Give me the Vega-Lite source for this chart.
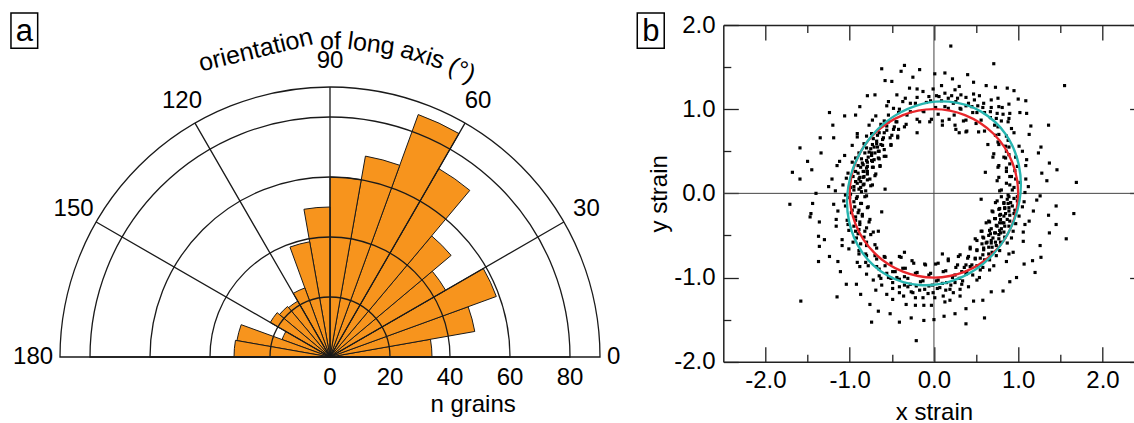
{
  "$schema": "https://vega.github.io/schema/vega-lite/v6.json",
  "padding": {"left": 0, "top": 12, "right": 0, "bottom": 0},
  "autosize": {"type": "pad"},
  "bounds": "flush",
  "spacing": 63.3,
  "config": {
    "font": "Liberation Sans",
    "view": {"stroke": null},
    "axis": {"domainColor": "#222", "domainWidth": 1.5, "tickColor": "#222", "tickWidth": 1.3, "grid": false, "labelFontSize": 24, "labelColor": "black", "titleFontSize": 24, "titleFontWeight": "normal", "titleColor": "black", "labelFont": "Liberation Sans", "titleFont": "Liberation Sans", "labelFlush": false}
  },
  "hconcat": [
    {
      "width": 660,
      "height": 664,
      "layer": [
        {
          "data": {"values": [{"a0":0,"a1":10,"n":34},{"a0":10,"a1":20,"n":49},{"a0":20,"a1":30,"n":59},{"a0":30,"a1":40,"n":44.5},{"a0":40,"a1":50,"n":52.7},{"a0":50,"a1":60,"n":72.5},{"a0":60,"a1":70,"n":86},{"a0":70,"a1":80,"n":68},{"a0":80,"a1":90,"n":60},{"a0":90,"a1":100,"n":50},{"a0":100,"a1":110,"n":39},{"a0":110,"a1":120,"n":24.5},{"a0":120,"a1":130,"n":21.5},{"a0":130,"a1":140,"n":22},{"a0":140,"a1":150,"n":23},{"a0":150,"a1":160,"n":17},{"a0":160,"a1":170,"n":31.5},{"a0":170,"a1":180,"n":32}]},
          "mark": {"type": "arc", "fill": "#F7941D", "stroke": "#1a1a1a", "strokeWidth": 1},
          "encoding": {
            "theta": {"field": "a0", "type": "quantitative", "scale": {"type": "linear", "domain": [0, 180], "range": [1.5707963, -1.5707963]}, "stack": null},
            "theta2": {"field": "a1"},
            "radius": {"field": "n", "type": "quantitative", "stack": null, "scale": {"type": "linear", "domain": [0, 90], "range": [0, 270], "zero": true}}
          }
        },
        {
          "data": {"values": [{"r":20},{"r":40},{"r":60},{"r":80},{"r":90}]},
          "mark": {"type": "arc", "filled": false, "stroke": "#1a1a1a", "strokeWidth": 1.3},
          "encoding": {
            "theta": {"datum": 0, "type": "quantitative"},
            "theta2": {"datum": 180},
            "radius": {"field": "r", "type": "quantitative", "stack": null}
          }
        },
        {
          "data": {"values": [{"a":30},{"a":60},{"a":90},{"a":120},{"a":150}]},
          "mark": {"type": "arc", "filled": false, "stroke": "#1a1a1a", "strokeWidth": 1.3},
          "encoding": {
            "theta": {"field": "a", "type": "quantitative", "stack": null},
            "theta2": {"field": "a"},
            "radius": {"datum": 90, "type": "quantitative"}
          }
        },
        {
          "data": {"values": [{"deg":30},{"deg":60},{"deg":90},{"deg":120},{"deg":150}]},
          "mark": {"type": "text", "fontSize": 24, "align": "center", "baseline": "middle", "color": "black"},
          "encoding": {
            "theta": {"field": "deg", "type": "quantitative", "stack": null},
            "radius": {"datum": 98.7, "type": "quantitative"},
            "text": {"field": "deg", "type": "quantitative", "format": "d"}
          }
        },
        {
          "data": {"values": [{"deg":0}]},
          "mark": {"type": "text", "fontSize": 24, "align": "left", "baseline": "middle", "color": "black"},
          "encoding": {
            "theta": {"field": "deg", "type": "quantitative", "stack": null},
            "radius": {"datum": 92.3, "type": "quantitative"},
            "text": {"field": "deg", "type": "quantitative", "format": "d"}
          }
        },
        {
          "data": {"values": [{"deg":180}]},
          "mark": {"type": "text", "fontSize": 24, "align": "right", "baseline": "middle", "color": "black"},
          "encoding": {
            "theta": {"field": "deg", "type": "quantitative", "stack": null},
            "radius": {"datum": 92.3, "type": "quantitative"},
            "text": {"field": "deg", "type": "quantitative", "format": "d"}
          }
        },
        {
          "data": {"values": [{"w":"orientation","deg":103.6},{"w":"of","deg":89.9},{"w":"long","deg":82.5},{"w":"axis","deg":72.96},{"w":"(°)","deg":65.3}]},
          "mark": {"type": "text", "fontSize": 25, "align": "center", "baseline": "alphabetic", "color": "black"},
          "encoding": {
            "theta": {"field": "deg", "type": "quantitative", "stack": null},
            "radius": {"datum": 102.6, "type": "quantitative"},
            "angle": {"field": "deg", "type": "quantitative", "scale": {"domain": [0, 180], "range": [90, -90]}},
            "text": {"field": "w"}
          }
        },
        {
          "data": {"values": [{"v":0},{"v":20},{"v":40},{"v":60},{"v":80}]},
          "mark": {"type": "text", "fontSize": 24, "align": "center", "baseline": "top", "dy": 9, "color": "black"},
          "encoding": {
            "theta": {"datum": 0, "type": "quantitative"},
            "radius": {"field": "v", "type": "quantitative", "stack": null},
            "text": {"field": "v", "type": "quantitative", "format": "d"}
          }
        },
        {
          "data": {"values": [{}]},
          "mark": {"type": "text", "text": "n grains", "fontSize": 24, "align": "center", "baseline": "alphabetic", "dy": 55, "color": "black"},
          "encoding": {
            "theta": {"datum": 0, "type": "quantitative"},
            "radius": {"datum": 47.7, "type": "quantitative"}
          }
        }
      ]
    },
    {
      "width": 421.3,
      "height": 336.7,
      "resolve": {"axis": {"x": "independent", "y": "independent"}},
      "layer": [
        {
          "data": {"values": [{}]},
          "mark": {"type": "rule", "stroke": "#444", "strokeWidth": 1},
          "encoding": {
            "y": {"datum": 0, "type": "quantitative", "scale": {"domain": [-2, 2], "nice": false, "zero": false},
                  "axis": {"orient": "right", "values": [-2, -1.5, -1, -0.5, 0, 0.5, 1, 1.5, 2], "labels": false, "title": null, "domain": true,
                           "tickSize": {"condition": {"test": "datum.value % 1 === 0", "value": -15}, "value": -7.5}}}
          }
        },
        {
          "data": {"values": [{}]},
          "mark": {"type": "rule", "stroke": "#444", "strokeWidth": 1},
          "encoding": {
            "x": {"datum": 0, "type": "quantitative", "scale": {"domain": [-2.5, 2.5], "nice": false, "zero": false},
                  "axis": {"orient": "top", "values": [-2, -1.5, -1, -0.5, 0, 0.5, 1, 1.5, 2], "labels": false, "title": null, "domain": true,
                           "tickSize": {"condition": {"test": "datum.value % 1 === 0", "value": -15}, "value": -7.5}}}
          }
        },
        {
          "data": {"values": [
{"x":0.78,"y":0.03},{"x":0.88,"y":-0.02},{"x":0.93,"y":0.04},{"x":0.99,"y":-0.04},{"x":1.08,"y":0.01},{"x":1.26,"y":-0.03},
{"x":0.80,"y":0.04},{"x":0.90,"y":0.10},{"x":0.95,"y":0.07},{"x":1.02,"y":0.13},{"x":1.12,"y":0.08},{"x":1.34,"y":0.15},
{"x":0.75,"y":0.15},{"x":0.86,"y":0.12},{"x":0.90,"y":0.20},{"x":0.97,"y":0.17},{"x":1.09,"y":0.17},{"x":1.28,"y":0.24},
{"x":0.77,"y":0.19},{"x":0.86,"y":0.26},{"x":0.92,"y":0.20},{"x":0.96,"y":0.27},{"x":1.09,"y":0.33},{"x":1.37,"y":0.36},
{"x":0.76,"y":0.31},{"x":0.86,"y":0.30},{"x":0.90,"y":0.35},{"x":0.99,"y":0.32},{"x":1.10,"y":0.40},{"x":1.24,"y":0.48},
{"x":0.77,"y":0.33},{"x":0.85,"y":0.42},{"x":0.89,"y":0.46},{"x":0.97,"y":0.43},{"x":1.05,"y":0.50},{"x":1.27,"y":0.55},
{"x":0.70,"y":0.43},{"x":0.83,"y":0.43},{"x":0.86,"y":0.50},{"x":0.89,"y":0.55},{"x":1.01,"y":0.56},{"x":1.13,"y":0.70},
{"x":0.71,"y":0.47},{"x":0.77,"y":0.58},{"x":0.85,"y":0.56},{"x":0.88,"y":0.63},{"x":0.95,"y":0.72},{"x":1.15,"y":0.80},
{"x":0.64,"y":0.58},{"x":0.76,"y":0.61},{"x":0.77,"y":0.70},{"x":0.86,"y":0.68},{"x":0.92,"y":0.77},{"x":1.10,"y":0.95},
{"x":0.73,"y":0.69},{"x":0.76,"y":0.79},{"x":0.80,"y":0.86},{"x":0.88,"y":0.85},{"x":0.89,"y":0.89},{"x":0.90,"y":0.95},{"x":1.02,"y":0.96},{"x":1.09,"y":1.10},
{"x":0.60,"y":0.74},{"x":0.72,"y":0.81},{"x":0.74,"y":0.89},{"x":0.75,"y":0.95},{"x":0.82,"y":0.94},{"x":0.81,"y":1.02},{"x":0.89,"y":1.06},{"x":1.00,"y":1.12},
{"x":0.53,"y":0.73},{"x":0.56,"y":0.87},{"x":0.67,"y":0.90},{"x":0.67,"y":0.97},{"x":0.68,"y":1.02},{"x":0.77,"y":1.03},{"x":0.76,"y":1.13},{"x":0.87,"y":1.25},
{"x":0.39,"y":0.74},{"x":0.50,"y":0.83},{"x":0.51,"y":0.96},{"x":0.60,"y":0.96},{"x":0.58,"y":1.02},{"x":0.59,"y":1.07},{"x":0.68,"y":1.11},{"x":0.73,"y":1.26},
{"x":0.38,"y":0.73},{"x":0.38,"y":0.87},{"x":0.46,"y":0.96},{"x":0.45,"y":1.03},{"x":0.52,"y":1.04},{"x":0.48,"y":1.11},{"x":0.54,"y":1.16},{"x":0.62,"y":1.28},
{"x":0.26,"y":0.76},{"x":0.35,"y":0.86},{"x":0.32,"y":1.00},{"x":0.38,"y":1.04},{"x":0.41,"y":1.07},{"x":0.38,"y":1.14},{"x":0.47,"y":1.18},{"x":0.47,"y":1.32},
{"x":0.25,"y":0.81},{"x":0.24,"y":0.93},{"x":0.31,"y":1.01},{"x":0.26,"y":1.09},{"x":0.28,"y":1.13},{"x":0.32,"y":1.17},{"x":0.30,"y":1.27},{"x":0.40,"y":1.41},
{"x":0.10,"y":0.81},{"x":0.18,"y":0.88},{"x":0.17,"y":1.01},{"x":0.23,"y":1.07},{"x":0.17,"y":1.13},{"x":0.21,"y":1.16},{"x":0.25,"y":1.23},{"x":0.22,"y":1.36},
{"x":0.10,"y":0.86},{"x":0.05,"y":0.94},{"x":0.13,"y":1.03},{"x":0.09,"y":1.10},{"x":0.06,"y":1.15},{"x":0.13,"y":1.19},{"x":0.09,"y":1.28},{"x":0.13,"y":1.43},
{"x":-0.03,"y":0.88},{"x":0.02,"y":1.02},{"x":-0.04,"y":1.10},{"x":0.03,"y":1.16},{"x":-0.01,"y":1.24},{"x":0.01,"y":1.42},
{"x":-0.05,"y":0.85},{"x":-0.12,"y":0.97},{"x":-0.09,"y":1.08},{"x":-0.06,"y":1.15},{"x":-0.13,"y":1.21},{"x":-0.17,"y":1.47},
{"x":-0.17,"y":0.85},{"x":-0.13,"y":0.98},{"x":-0.22,"y":1.07},{"x":-0.20,"y":1.14},{"x":-0.20,"y":1.24},{"x":-0.25,"y":1.38},
{"x":-0.20,"y":0.88},{"x":-0.28,"y":0.97},{"x":-0.28,"y":1.07},{"x":-0.34,"y":1.13},{"x":-0.29,"y":1.25},{"x":-0.39,"y":1.45},
{"x":-0.33,"y":0.82},{"x":-0.32,"y":0.93},{"x":-0.41,"y":1.00},{"x":-0.37,"y":1.09},{"x":-0.44,"y":1.17},{"x":-0.50,"y":1.33},
{"x":-0.35,"y":0.79},{"x":-0.44,"y":0.85},{"x":-0.42,"y":0.96},{"x":-0.48,"y":1.01},{"x":-0.54,"y":1.09},{"x":-0.58,"y":1.34},
{"x":-0.43,"y":0.68},{"x":-0.42,"y":0.76},{"x":-0.47,"y":0.79},{"x":-0.45,"y":0.85},{"x":-0.54,"y":0.85},{"x":-0.54,"y":0.93},{"x":-0.56,"y":1.04},{"x":-0.70,"y":1.17},
{"x":-0.43,"y":0.66},{"x":-0.50,"y":0.69},{"x":-0.48,"y":0.76},{"x":-0.56,"y":0.75},{"x":-0.56,"y":0.80},{"x":-0.59,"y":0.86},{"x":-0.69,"y":0.92},{"x":-0.79,"y":1.16},
{"x":-0.51,"y":0.58},{"x":-0.52,"y":0.66},{"x":-0.60,"y":0.66},{"x":-0.59,"y":0.72},{"x":-0.65,"y":0.72},{"x":-0.63,"y":0.82},{"x":-0.73,"y":0.87},{"x":-0.88,"y":1.03},
{"x":-0.51,"y":0.57},{"x":-0.61,"y":0.57},{"x":-0.61,"y":0.64},{"x":-0.68,"y":0.62},{"x":-0.67,"y":0.69},{"x":-0.74,"y":0.71},{"x":-0.77,"y":0.81},{"x":-0.93,"y":0.93},
{"x":-0.57,"y":0.44},{"x":-0.59,"y":0.52},{"x":-0.66,"y":0.50},{"x":-0.63,"y":0.58},{"x":-0.67,"y":0.55},{"x":-0.68,"y":0.59},{"x":-0.73,"y":0.58},{"x":-0.72,"y":0.65},{"x":-0.80,"y":0.68},{"x":-0.91,"y":0.71},{"x":-1.06,"y":0.92},
{"x":-0.59,"y":0.44},{"x":-0.66,"y":0.42},{"x":-0.65,"y":0.50},{"x":-0.70,"y":0.48},{"x":-0.74,"y":0.48},{"x":-0.71,"y":0.55},{"x":-0.75,"y":0.53},{"x":-0.80,"y":0.54},{"x":-0.83,"y":0.59},{"x":-0.91,"y":0.67},{"x":-1.20,"y":0.81},
{"x":-0.64,"y":0.32},{"x":-0.65,"y":0.41},{"x":-0.71,"y":0.40},{"x":-0.74,"y":0.39},{"x":-0.74,"y":0.45},{"x":-0.78,"y":0.43},{"x":-0.77,"y":0.49},{"x":-0.82,"y":0.48},{"x":-0.89,"y":0.48},{"x":-0.97,"y":0.57},{"x":-1.19,"y":0.66},
{"x":-0.64,"y":0.33},{"x":-0.72,"y":0.31},{"x":-0.73,"y":0.38},{"x":-0.79,"y":0.32},{"x":-0.79,"y":0.37},{"x":-0.80,"y":0.39},{"x":-0.85,"y":0.36},{"x":-0.86,"y":0.41},{"x":-0.93,"y":0.42},{"x":-1.06,"y":0.45},{"x":-1.35,"y":0.66},
{"x":-0.69,"y":0.23},{"x":-0.73,"y":0.31},{"x":-0.79,"y":0.26},{"x":-0.80,"y":0.30},{"x":-0.83,"y":0.26},{"x":-0.84,"y":0.34},{"x":-0.87,"y":0.31},{"x":-0.90,"y":0.33},{"x":-0.97,"y":0.37},{"x":-1.12,"y":0.38},{"x":-1.34,"y":0.48},
{"x":-0.70,"y":0.21},{"x":-0.76,"y":0.17},{"x":-0.79,"y":0.23},{"x":-0.83,"y":0.20},{"x":-0.84,"y":0.26},{"x":-0.88,"y":0.19},{"x":-0.90,"y":0.24},{"x":-0.93,"y":0.26},{"x":-1.02,"y":0.24},{"x":-1.15,"y":0.33},{"x":-1.50,"y":0.38},
{"x":-0.73,"y":0.10},{"x":-0.79,"y":0.16},{"x":-0.83,"y":0.11},{"x":-0.84,"y":0.19},{"x":-0.87,"y":0.14},{"x":-0.89,"y":0.17},{"x":-0.93,"y":0.14},{"x":-0.96,"y":0.20},{"x":-1.04,"y":0.18},{"x":-1.21,"y":0.17},{"x":-1.45,"y":0.28},
{"x":-0.75,"y":0.09},{"x":-0.81,"y":0.03},{"x":-0.84,"y":0.10},{"x":-0.87,"y":0.07},{"x":-0.89,"y":0.05},{"x":-0.91,"y":0.12},{"x":-0.95,"y":0.08},{"x":-0.99,"y":0.07},{"x":-1.08,"y":0.10},{"x":-1.25,"y":0.08},{"x":-1.59,"y":0.17},
{"x":-0.80,"y":-0.03},{"x":-0.86,"y":0.02},{"x":-0.91,"y":-0.04},{"x":-0.95,"y":0.04},{"x":-0.99,"y":-0.01},{"x":-1.05,"y":-0.02},{"x":-1.17,"y":0.03},{"x":-1.40,"y":0.00},
{"x":-0.82,"y":-0.04},{"x":-0.87,"y":-0.12},{"x":-0.92,"y":-0.06},{"x":-0.95,"y":-0.10},{"x":-1.00,"y":-0.05},{"x":-1.07,"y":-0.09},{"x":-1.19,"y":-0.13},{"x":-1.44,"y":-0.12},
{"x":-0.78,"y":-0.16},{"x":-0.86,"y":-0.12},{"x":-0.89,"y":-0.20},{"x":-0.94,"y":-0.16},{"x":-0.97,"y":-0.20},{"x":-1.05,"y":-0.15},{"x":-1.14,"y":-0.21},{"x":-1.47,"y":-0.28},
{"x":-0.79,"y":-0.17},{"x":-0.85,"y":-0.25},{"x":-0.90,"y":-0.23},{"x":-0.93,"y":-0.28},{"x":-0.98,"y":-0.23},{"x":-1.03,"y":-0.32},{"x":-1.16,"y":-0.31},{"x":-1.36,"y":-0.34},
{"x":-0.76,"y":-0.31},{"x":-0.85,"y":-0.27},{"x":-0.88,"y":-0.34},{"x":-0.93,"y":-0.32},{"x":-0.95,"y":-0.39},{"x":-1.02,"y":-0.37},{"x":-1.16,"y":-0.39},{"x":-1.37,"y":-0.51},
{"x":-0.77,"y":-0.34},{"x":-0.80,"y":-0.41},{"x":-0.88,"y":-0.37},{"x":-0.89,"y":-0.43},{"x":-0.93,"y":-0.45},{"x":-1.01,"y":-0.44},{"x":-1.09,"y":-0.55},{"x":-1.36,"y":-0.63},
{"x":-0.72,"y":-0.46},{"x":-0.82,"y":-0.45},{"x":-0.83,"y":-0.52},{"x":-0.90,"y":-0.48},{"x":-0.92,"y":-0.53},{"x":-0.96,"y":-0.58},{"x":-1.09,"y":-0.62},{"x":-1.24,"y":-0.75},
{"x":-0.75,"y":-0.49},{"x":-0.80,"y":-0.58},{"x":-0.87,"y":-0.60},{"x":-0.89,"y":-0.68},{"x":-1.01,"y":-0.66},{"x":-1.14,"y":-0.81},
{"x":-0.70,"y":-0.61},{"x":-0.80,"y":-0.62},{"x":-0.81,"y":-0.72},{"x":-0.89,"y":-0.72},{"x":-0.91,"y":-0.82},{"x":-1.11,"y":-0.93},
{"x":-0.68,"y":-0.65},{"x":-0.70,"y":-0.74},{"x":-0.80,"y":-0.74},{"x":-0.81,"y":-0.82},{"x":-0.88,"y":-0.87},{"x":-1.04,"y":-1.08},
{"x":-0.59,"y":-0.75},{"x":-0.68,"y":-0.78},{"x":-0.68,"y":-0.87},{"x":-0.78,"y":-0.86},{"x":-0.80,"y":-0.96},{"x":-0.92,"y":-1.08},
{"x":-0.58,"y":-0.76},{"x":-0.58,"y":-0.86},{"x":-0.65,"y":-0.90},{"x":-0.65,"y":-0.98},{"x":-0.72,"y":-1.03},{"x":-0.87,"y":-1.20},
{"x":-0.41,"y":-0.75},{"x":-0.51,"y":-0.83},{"x":-0.49,"y":-0.93},{"x":-0.56,"y":-0.95},{"x":-0.54,"y":-1.00},{"x":-0.63,"y":-1.01},{"x":-0.62,"y":-1.09},{"x":-0.69,"y":-1.15},{"x":-0.76,"y":-1.32},
{"x":-0.39,"y":-0.76},{"x":-0.37,"y":-0.89},{"x":-0.46,"y":-0.93},{"x":-0.44,"y":-1.00},{"x":-0.51,"y":-1.01},{"x":-0.49,"y":-1.06},{"x":-0.49,"y":-1.13},{"x":-0.56,"y":-1.20},{"x":-0.66,"y":-1.40},
{"x":-0.26,"y":-0.80},{"x":-0.34,"y":-0.89},{"x":-0.35,"y":-0.99},{"x":-0.41,"y":-1.02},{"x":-0.35,"y":-1.09},{"x":-0.41,"y":-1.11},{"x":-0.41,"y":-1.18},{"x":-0.49,"y":-1.26},{"x":-0.52,"y":-1.43},
{"x":-0.24,"y":-0.83},{"x":-0.22,"y":-0.95},{"x":-0.31,"y":-1.01},{"x":-0.28,"y":-1.08},{"x":-0.31,"y":-1.11},{"x":-0.27,"y":-1.17},{"x":-0.36,"y":-1.22},{"x":-0.33,"y":-1.32},{"x":-0.41,"y":-1.53},
{"x":-0.11,"y":-0.84},{"x":-0.20,"y":-0.94},{"x":-0.16,"y":-1.05},{"x":-0.21,"y":-1.10},{"x":-0.17,"y":-1.15},{"x":-0.25,"y":-1.18},{"x":-0.22,"y":-1.24},{"x":-0.22,"y":-1.33},{"x":-0.27,"y":-1.48},
{"x":-0.10,"y":-0.85},{"x":-0.06,"y":-0.97},{"x":-0.13,"y":-1.04},{"x":-0.06,"y":-1.10},{"x":-0.11,"y":-1.14},{"x":-0.07,"y":-1.19},{"x":-0.13,"y":-1.24},{"x":-0.12,"y":-1.33},{"x":-0.12,"y":-1.51},
{"x":0.02,"y":-0.84},{"x":-0.04,"y":-0.95},{"x":0.03,"y":-1.04},{"x":-0.02,"y":-1.09},{"x":0.04,"y":-1.13},{"x":-0.01,"y":-1.18},{"x":0.01,"y":-1.24},{"x":-0.03,"y":-1.33},{"x":0.00,"y":-1.50},
{"x":0.05,"y":-0.83},{"x":0.11,"y":-0.93},{"x":0.05,"y":-1.03},{"x":0.10,"y":-1.07},{"x":0.07,"y":-1.12},{"x":0.14,"y":-1.15},{"x":0.11,"y":-1.22},{"x":0.13,"y":-1.29},{"x":0.12,"y":-1.46},
{"x":0.17,"y":-0.80},{"x":0.14,"y":-0.92},{"x":0.22,"y":-1.00},{"x":0.15,"y":-1.06},{"x":0.20,"y":-1.09},{"x":0.19,"y":-1.14},{"x":0.23,"y":-1.18},{"x":0.19,"y":-1.27},{"x":0.25,"y":-1.43},
{"x":0.17,"y":-0.78},{"x":0.26,"y":-0.88},{"x":0.25,"y":-0.97},{"x":0.30,"y":-1.01},{"x":0.25,"y":-1.06},{"x":0.33,"y":-1.08},{"x":0.31,"y":-1.14},{"x":0.31,"y":-1.22},{"x":0.38,"y":-1.37},
{"x":0.29,"y":-0.75},{"x":0.28,"y":-0.85},{"x":0.36,"y":-0.88},{"x":0.33,"y":-0.93},{"x":0.38,"y":-0.96},{"x":0.34,"y":-1.04},{"x":0.41,"y":-1.11},{"x":0.47,"y":-1.28},
{"x":0.31,"y":-0.73},{"x":0.40,"y":-0.77},{"x":0.38,"y":-0.85},{"x":0.43,"y":-0.87},{"x":0.39,"y":-0.93},{"x":0.46,"y":-0.97},{"x":0.51,"y":-1.03},{"x":0.58,"y":-1.27},
{"x":0.43,"y":-0.66},{"x":0.41,"y":-0.75},{"x":0.49,"y":-0.78},{"x":0.45,"y":-0.85},{"x":0.51,"y":-0.86},{"x":0.55,"y":-0.91},{"x":0.54,"y":-1.00},{"x":0.68,"y":-1.17},
{"x":0.43,"y":-0.64},{"x":0.51,"y":-0.68},{"x":0.49,"y":-0.77},{"x":0.55,"y":-0.77},{"x":0.60,"y":-0.79},{"x":0.58,"y":-0.88},{"x":0.66,"y":-0.91},{"x":0.82,"y":-1.16},
{"x":0.51,"y":-0.56},{"x":0.51,"y":-0.67},{"x":0.59,"y":-0.67},{"x":0.58,"y":-0.73},{"x":0.65,"y":-0.72},{"x":0.66,"y":-0.79},{"x":0.71,"y":-0.86},{"x":0.90,"y":-1.05},
{"x":0.49,"y":-0.54},{"x":0.59,"y":-0.53},{"x":0.57,"y":-0.60},{"x":0.62,"y":-0.59},{"x":0.59,"y":-0.65},{"x":0.65,"y":-0.64},{"x":0.69,"y":-0.64},{"x":0.69,"y":-0.70},{"x":0.74,"y":-0.74},{"x":0.86,"y":-0.81},{"x":0.98,"y":-1.00},
{"x":0.56,"y":-0.45},{"x":0.58,"y":-0.52},{"x":0.65,"y":-0.50},{"x":0.63,"y":-0.58},{"x":0.68,"y":-0.56},{"x":0.68,"y":-0.59},{"x":0.73,"y":-0.58},{"x":0.74,"y":-0.62},{"x":0.78,"y":-0.68},{"x":0.89,"y":-0.72},{"x":1.07,"y":-0.84},
{"x":0.57,"y":-0.45},{"x":0.66,"y":-0.44},{"x":0.67,"y":-0.48},{"x":0.72,"y":-0.47},{"x":0.70,"y":-0.53},{"x":0.77,"y":-0.49},{"x":0.77,"y":-0.54},{"x":0.79,"y":-0.58},{"x":0.87,"y":-0.59},{"x":0.94,"y":-0.70},{"x":1.17,"y":-0.80},
{"x":0.66,"y":-0.34},{"x":0.68,"y":-0.42},{"x":0.75,"y":-0.39},{"x":0.73,"y":-0.47},{"x":0.78,"y":-0.44},{"x":0.79,"y":-0.47},{"x":0.83,"y":-0.46},{"x":0.84,"y":-0.52},{"x":0.92,"y":-0.53},{"x":1.06,"y":-0.57},{"x":1.27,"y":-0.76},
{"x":0.65,"y":-0.33},{"x":0.73,"y":-0.30},{"x":0.74,"y":-0.38},{"x":0.78,"y":-0.35},{"x":0.81,"y":-0.35},{"x":0.80,"y":-0.42},{"x":0.84,"y":-0.39},{"x":0.89,"y":-0.39},{"x":0.94,"y":-0.45},{"x":1.06,"y":-0.46},{"x":1.26,"y":-0.62},
{"x":0.69,"y":-0.21},{"x":0.72,"y":-0.30},{"x":0.78,"y":-0.26},{"x":0.79,"y":-0.31},{"x":0.83,"y":-0.27},{"x":0.83,"y":-0.35},{"x":0.87,"y":-0.31},{"x":0.90,"y":-0.33},{"x":0.97,"y":-0.36},{"x":1.08,"y":-0.37},{"x":1.37,"y":-0.47},
{"x":0.70,"y":-0.22},{"x":0.77,"y":-0.19},{"x":0.79,"y":-0.25},{"x":0.84,"y":-0.18},{"x":0.85,"y":-0.24},{"x":0.89,"y":-0.21},{"x":0.90,"y":-0.26},{"x":0.95,"y":-0.24},{"x":1.01,"y":-0.27},{"x":1.13,"y":-0.33},{"x":1.45,"y":-0.37},
{"x":0.73,"y":-0.11},{"x":0.78,"y":-0.18},{"x":0.83,"y":-0.12},{"x":0.84,"y":-0.17},{"x":0.88,"y":-0.12},{"x":0.89,"y":-0.17},{"x":0.93,"y":-0.15},{"x":0.96,"y":-0.20},{"x":1.05,"y":-0.16},{"x":1.18,"y":-0.21},{"x":1.36,"y":-0.26},
{"x":0.75,"y":-0.09},{"x":0.80,"y":-0.04},{"x":0.83,"y":-0.11},{"x":0.87,"y":-0.07},{"x":0.89,"y":-0.04},{"x":0.91,"y":-0.11},{"x":0.95,"y":-0.06},{"x":0.99,"y":-0.09},{"x":1.07,"y":-0.10},{"x":1.22,"y":-0.08},{"x":1.45,"y":-0.15},
{"x":0.20,"y":1.75},{"x":-0.21,"y":-1.75},{"x":1.55,"y":1.28},{"x":1.69,"y":0.13},{"x":1.57,"y":-0.54},{"x":-1.68,"y":0.25},{"x":-1.59,"y":0.54},{"x":-1.58,"y":-1.28},{"x":-1.71,"y":-0.13},{"x":-0.62,"y":1.48},{"x":0.71,"y":1.54},{"x":1.36,"y":0.81},{"x":1.20,"y":-0.94},{"x":-1.15,"y":-1.23},{"x":-0.74,"y":-1.53},{"x":0.60,"y":-1.48},{"x":-1.37,"y":-0.81},{"x":-1.46,"y":-0.24},{"x":1.46,"y":0.28},{"x":1.66,"y":-0.24},{"x":-1.24,"y":0.96},{"x":0.95,"y":1.22},{"x":-0.35,"y":1.52},{"x":0.38,"y":-1.55},{"x":-1.30,"y":-0.55},
{"x":0.56,"y":-0.07},{"x":0.61,"y":0.25},{"x":-0.62,"y":-0.22},{"x":-0.58,"y":0.05},{"x":0.30,"y":0.72},{"x":-0.20,"y":0.72},{"x":0.10,"y":-0.72},{"x":-0.35,"y":-0.70},{"x":0.62,"y":-0.35},{"x":-0.66,"y":-0.45}
          ]},
          "mark": {"type": "square", "size": 10, "color": "black", "opacity": 1},
          "encoding": {
            "x": {"field": "x", "type": "quantitative", "scale": {"domain": [-2.5, 2.5], "nice": false, "zero": false},
                  "axis": {"orient": "bottom", "values": [-2, -1.5, -1, -0.5, 0, 0.5, 1, 1.5, 2], "domain": true,
                           "tickSize": {"condition": {"test": "datum.value % 1 === 0", "value": -15}, "value": -7.5},
                           "labelPadding": 21.5, "labelOverlap": false,
                           "labelExpr": "datum.value % 1 === 0 ? replace(format(datum.value, '.1f'), '\u2212', '-') : ''",
                           "title": "x strain", "titleY": 57.8, "titleBaseline": "alphabetic"}},
            "y": {"field": "y", "type": "quantitative", "scale": {"domain": [-2, 2], "nice": false, "zero": false},
                  "axis": {"orient": "left", "values": [-2, -1.5, -1, -0.5, 0, 0.5, 1, 1.5, 2], "domain": true,
                           "tickSize": {"condition": {"test": "datum.value % 1 === 0", "value": -15}, "value": -7.5},
                           "labelPadding": 23.3, "labelOverlap": false,
                           "labelExpr": "datum.value % 1 === 0 ? replace(format(datum.value, '.1f'), '\u2212', '-') : ''",
                           "title": "y strain", "titleX": -64, "titleY": 168.35, "titleAngle": 270, "titleBaseline": "middle", "titleAlign": "center"}}
          }
        },
        {
          "data": {"values": [{}]},
          "mark": {"type": "point", "shape": "circle", "size": 28392, "filled": false, "stroke": "#E8262B", "strokeWidth": 2.4, "opacity": 1},
          "encoding": {
            "x": {"datum": 0, "type": "quantitative", "axis": null},
            "y": {"datum": 0, "type": "quantitative", "axis": null}
          }
        },
        {
          "data": {"values": [{}]},
          "mark": {"type": "point", "shape": "M0.56,-0.97C0.082,-1.246,-0.557,-1.036,-0.866,-0.5C-1.175,0.036,-1.038,0.694,-0.56,0.97C-0.082,1.246,0.557,1.036,0.866,0.5C1.175,-0.036,1.038,-0.694,0.56,-0.97Z", "size": 28392, "filled": false, "stroke": "#27B5B0", "strokeWidth": 2.4, "opacity": 1},
          "encoding": {
            "x": {"datum": 0, "type": "quantitative", "axis": null},
            "y": {"datum": 0, "type": "quantitative", "axis": null}
          }
        },
        {
          "data": {"values": [{"t":"a","x0":-10.954,"x1":-10.637,"xc":-10.796},{"t":"b","x0":-3.521,"x1":-3.201,"xc":-3.361}]},
          "layer": [
            {
              "mark": {"type": "rect", "filled": false, "stroke": "black", "strokeWidth": 1.5},
              "encoding": {
                "x": {"field": "x0", "type": "quantitative", "axis": null},
                "x2": {"field": "x1"},
                "y": {"datum": 1.7231, "type": "quantitative", "axis": null},
                "y2": {"datum": 2.1426}
              }
            },
            {
              "mark": {"type": "text", "fontSize": 31, "align": "center", "baseline": "alphabetic", "color": "black"},
              "encoding": {
                "x": {"field": "xc", "type": "quantitative", "axis": null},
                "y": {"datum": 1.804, "type": "quantitative", "axis": null},
                "text": {"field": "t"}
              }
            }
          ]
        }
      ]
    }
  ]
}
